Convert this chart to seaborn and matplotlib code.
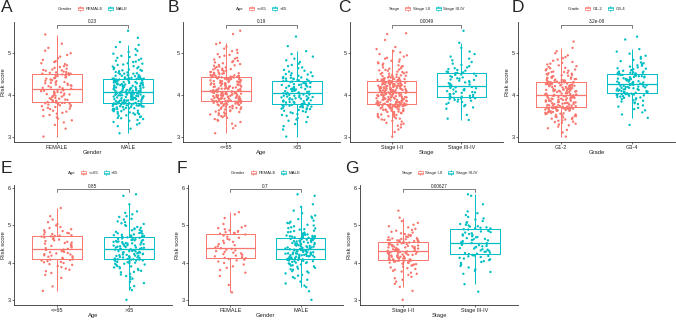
import numpy as np
import pandas as pd
import matplotlib
matplotlib.use("Agg")
import matplotlib.pyplot as plt
import seaborn as sns
from matplotlib.patches import Rectangle, Patch
from matplotlib.lines import Line2D
from matplotlib.legend_handler import HandlerBase

# ---- risk scores per group ----
a_female = [
    3.00, 3.19, 3.28, 3.34, 3.39, 3.43, 3.46, 3.49, 3.52, 3.55, 3.57, 3.60, 3.62, 3.64, 3.66, 3.67, 3.69, 3.71, 3.72, 3.73,
    3.75, 3.75, 3.77, 3.78, 3.79, 3.80, 3.80, 3.81, 3.81, 3.82,
    3.83, 3.84, 3.85, 3.86, 3.87, 3.88, 3.89, 3.90, 3.91, 3.92, 3.93, 3.95, 3.96, 3.97, 3.98, 3.99, 4.00, 4.01, 4.02, 4.03,
    4.04, 4.05, 4.06, 4.07, 4.08, 4.09, 4.10, 4.11, 4.12, 4.13,
    4.15, 4.16, 4.17, 4.18, 4.19, 4.21, 4.22, 4.23, 4.24, 4.25, 4.27, 4.28, 4.29, 4.30, 4.31, 4.33, 4.34, 4.35, 4.36, 4.37,
    4.39, 4.40, 4.41, 4.42, 4.43, 4.45, 4.46, 4.47, 4.48, 4.49,
    4.50, 4.51, 4.51, 4.52, 4.53, 4.54, 4.55, 4.56, 4.58, 4.59, 4.60, 4.61, 4.63, 4.65, 4.67, 4.69, 4.71, 4.74, 4.76, 4.79,
    4.81, 4.84, 4.88, 4.92, 4.96, 5.00, 5.06, 5.13, 5.23, 5.45,
]
a_male = [
    3.08, 3.19, 3.25, 3.29, 3.32, 3.35, 3.38, 3.40, 3.42, 3.44, 3.45, 3.47, 3.48, 3.50, 3.51, 3.53, 3.54, 3.55, 3.56, 3.57,
    3.58, 3.59, 3.61, 3.61, 3.62, 3.63, 3.64, 3.65, 3.66, 3.66, 3.67, 3.68, 3.68, 3.69, 3.70, 3.71, 3.71, 3.72, 3.72, 3.73,
    3.74, 3.74, 3.74, 3.75, 3.75, 3.76, 3.76, 3.77, 3.77, 3.77, 3.78, 3.78, 3.79, 3.79, 3.79, 3.79, 3.79, 3.80, 3.80, 3.80,
    3.80, 3.81, 3.81, 3.82, 3.82, 3.83, 3.83, 3.84, 3.84, 3.85, 3.85, 3.86, 3.86, 3.86, 3.87, 3.87, 3.88, 3.88, 3.89, 3.89,
    3.90, 3.90, 3.91, 3.91, 3.92, 3.92, 3.93, 3.93, 3.93, 3.94, 3.94, 3.95, 3.95, 3.96, 3.96, 3.97, 3.97, 3.98, 3.98, 3.99,
    3.99, 3.99, 4.00, 4.00, 4.01, 4.01, 4.02, 4.02, 4.03, 4.03, 4.04, 4.04, 4.04, 4.05, 4.05, 4.05, 4.06, 4.06, 4.06, 4.07,
    4.07, 4.08, 4.08, 4.09, 4.09, 4.10, 4.10, 4.11, 4.11, 4.12, 4.12, 4.13, 4.13, 4.14, 4.14, 4.15, 4.15, 4.16, 4.17, 4.17,
    4.18, 4.18, 4.19, 4.19, 4.20, 4.20, 4.21, 4.21, 4.22, 4.22, 4.23, 4.23, 4.24, 4.24, 4.25, 4.25, 4.26, 4.27, 4.27, 4.28,
    4.28, 4.29, 4.29, 4.30, 4.30, 4.31, 4.31, 4.32, 4.32, 4.33, 4.33, 4.34, 4.34, 4.35, 4.35, 4.36, 4.36, 4.37, 4.37, 4.38,
    4.38, 4.38, 4.39, 4.39, 4.39, 4.40, 4.40, 4.40, 4.41, 4.41, 4.42, 4.43, 4.43, 4.44, 4.45, 4.46, 4.46, 4.47, 4.48, 4.48,
    4.50, 4.51, 4.51, 4.52, 4.53, 4.54, 4.55, 4.57, 4.58, 4.59, 4.60, 4.61, 4.62, 4.64, 4.65, 4.67, 4.68, 4.69, 4.72, 4.73,
    4.75, 4.76, 4.79, 4.80, 4.82, 4.84, 4.87, 4.89, 4.91, 4.94, 4.96, 4.99, 5.03, 5.06, 5.10, 5.15, 5.20, 5.27, 5.37, 5.54,
]
b_le65 = [
    3.08, 3.20, 3.26, 3.31, 3.35, 3.38, 3.40, 3.42, 3.45, 3.47, 3.49, 3.50, 3.52, 3.53, 3.55, 3.56, 3.58, 3.59, 3.60, 3.61,
    3.63, 3.63, 3.65, 3.66, 3.67, 3.68, 3.69, 3.70, 3.70, 3.71, 3.72, 3.73, 3.74, 3.74, 3.75, 3.76, 3.77, 3.77, 3.77, 3.78,
    3.79, 3.79, 3.80, 3.81, 3.81, 3.81, 3.82, 3.82, 3.83, 3.83, 3.84, 3.84, 3.84, 3.85, 3.85, 3.85, 3.85, 3.86, 3.86, 3.86,
    3.86, 3.87, 3.87, 3.88, 3.88, 3.88, 3.89, 3.89, 3.90, 3.90, 3.91, 3.91, 3.91, 3.92, 3.92, 3.93, 3.93, 3.93, 3.94, 3.94,
    3.95, 3.95, 3.95, 3.96, 3.96, 3.97, 3.97, 3.97, 3.98, 3.98, 3.99, 3.99, 3.99, 4.00, 4.00, 4.01, 4.01, 4.01, 4.02, 4.02,
    4.03, 4.03, 4.03, 4.04, 4.04, 4.05, 4.05, 4.05, 4.06, 4.06, 4.07, 4.07, 4.07, 4.08, 4.08, 4.09, 4.09, 4.09,
    4.10, 4.11, 4.11, 4.12, 4.12, 4.13, 4.14, 4.14, 4.15, 4.15, 4.16, 4.16, 4.17, 4.17, 4.18, 4.19, 4.19, 4.20, 4.20, 4.21,
    4.21, 4.22, 4.23, 4.23, 4.24, 4.24, 4.25, 4.25, 4.26, 4.26, 4.27, 4.28, 4.28, 4.29, 4.29, 4.30, 4.30, 4.31, 4.32, 4.32,
    4.33, 4.33, 4.34, 4.34, 4.35, 4.35, 4.36, 4.37, 4.37, 4.38, 4.38, 4.39, 4.39, 4.40, 4.40, 4.41, 4.41, 4.42,
    4.42, 4.42, 4.43, 4.43, 4.43, 4.44, 4.44, 4.44, 4.45, 4.45, 4.46, 4.46, 4.47, 4.48, 4.49, 4.49, 4.50, 4.51, 4.52, 4.52,
    4.53, 4.54, 4.55, 4.55, 4.57, 4.58, 4.59, 4.60, 4.61, 4.62, 4.63, 4.64, 4.66, 4.67, 4.68, 4.70, 4.71, 4.72, 4.74, 4.76,
    4.78, 4.79, 4.81, 4.82, 4.85, 4.87, 4.89, 4.91, 4.94, 4.96, 4.98, 5.01, 5.05, 5.08, 5.11, 5.16, 5.22, 5.25, 5.46, 5.54,
]
b_gt65 = [
    3.00, 3.17, 3.25, 3.30, 3.35, 3.38, 3.41, 3.44, 3.47, 3.50, 3.52, 3.54, 3.56, 3.58, 3.59, 3.61, 3.62, 3.64, 3.65, 3.66,
    3.67, 3.68, 3.69, 3.70, 3.71, 3.72, 3.73, 3.73, 3.73, 3.74,
    3.74, 3.75, 3.76, 3.77, 3.77, 3.78, 3.79, 3.80, 3.80, 3.81, 3.82, 3.83, 3.83, 3.84, 3.85, 3.86, 3.86, 3.87, 3.88, 3.89,
    3.89, 3.90, 3.91, 3.92, 3.92, 3.93, 3.94, 3.95, 3.95, 3.96, 3.97, 3.98, 3.98, 3.99, 4.00, 4.01, 4.01, 4.02, 4.03, 4.04,
    4.04, 4.05, 4.06, 4.07, 4.08, 4.09, 4.09, 4.10, 4.11, 4.12, 4.13, 4.14, 4.14, 4.15, 4.16, 4.17, 4.18, 4.19, 4.19, 4.20,
    4.21, 4.22, 4.23, 4.24, 4.24, 4.25, 4.26, 4.27, 4.28, 4.29, 4.29, 4.30, 4.31, 4.32, 4.33, 4.34, 4.34, 4.35, 4.36, 4.37,
    4.38, 4.39, 4.39, 4.40, 4.41, 4.42, 4.43, 4.45, 4.46, 4.47, 4.49, 4.50, 4.52, 4.54, 4.56, 4.58, 4.60, 4.64, 4.66, 4.69,
    4.72, 4.75, 4.79, 4.83, 4.87, 4.92, 4.98, 5.05, 5.17, 5.40,
]
c_stage12 = [
    3.00, 3.11, 3.17, 3.22, 3.26, 3.29, 3.31, 3.33, 3.36, 3.38, 3.40, 3.41, 3.43, 3.44, 3.46, 3.47, 3.49, 3.49, 3.51, 3.52,
    3.53, 3.54, 3.55, 3.56, 3.57, 3.59, 3.59, 3.60, 3.61, 3.62, 3.62, 3.63, 3.64, 3.65, 3.65, 3.66, 3.67, 3.67, 3.68, 3.68,
    3.69, 3.70, 3.70, 3.71, 3.71, 3.71, 3.72, 3.73, 3.73, 3.73, 3.74, 3.74, 3.74, 3.75, 3.75, 3.75, 3.75, 3.76, 3.76, 3.76,
    3.76, 3.77, 3.77, 3.78, 3.78, 3.79, 3.79, 3.79, 3.80, 3.80, 3.81, 3.81, 3.82, 3.82, 3.82, 3.83, 3.83, 3.84, 3.84, 3.85,
    3.85, 3.86, 3.86, 3.86, 3.87, 3.87, 3.88, 3.88, 3.89, 3.89, 3.90, 3.90, 3.90, 3.91, 3.91, 3.92, 3.92, 3.93, 3.93, 3.94,
    3.94, 3.94, 3.95, 3.95, 3.96, 3.96, 3.97, 3.97, 3.98, 3.98, 3.98, 3.99, 3.99, 4.00, 4.00, 4.01, 4.01, 4.02, 4.02, 4.02,
    4.03, 4.03, 4.04, 4.04, 4.05, 4.05, 4.06, 4.06,
    4.07, 4.08, 4.08, 4.08, 4.09, 4.09, 4.10, 4.10, 4.10, 4.11, 4.11, 4.12, 4.12, 4.12, 4.13, 4.13, 4.14, 4.14, 4.14, 4.15,
    4.15, 4.16, 4.16, 4.16, 4.17, 4.17, 4.18, 4.18, 4.18, 4.19, 4.19, 4.20, 4.20, 4.20, 4.21, 4.21, 4.22, 4.22, 4.22, 4.23,
    4.23, 4.24, 4.24, 4.24, 4.25, 4.25, 4.26, 4.26, 4.26, 4.27, 4.27, 4.28, 4.28, 4.28, 4.29, 4.29, 4.30, 4.30, 4.30, 4.31,
    4.31, 4.32, 4.32, 4.32, 4.33, 4.33, 4.34, 4.34,
    4.35, 4.35, 4.36, 4.36, 4.36, 4.37, 4.37, 4.37, 4.38, 4.38, 4.39, 4.40, 4.40, 4.41, 4.42, 4.42, 4.43, 4.44, 4.45, 4.45,
    4.46, 4.47, 4.48, 4.49, 4.50, 4.51, 4.52, 4.53, 4.54, 4.55, 4.56, 4.58, 4.59, 4.60, 4.61, 4.63, 4.64, 4.66, 4.68, 4.69,
    4.71, 4.72, 4.75, 4.76, 4.78, 4.80, 4.82, 4.85, 4.87, 4.89, 4.92, 4.95, 4.98, 5.02, 5.05, 5.10, 5.15, 5.32, 5.46, 5.48,
]
c_stage34 = [
    3.40, 3.43, 3.52, 3.67, 3.70, 3.73, 3.76, 3.78, 3.81, 3.83, 3.84, 3.86, 3.88, 3.89, 3.90, 3.91, 3.92, 3.93, 3.93, 3.94,
    3.95, 3.96, 3.97, 3.98, 4.00, 4.01, 4.02, 4.03, 4.05, 4.06, 4.07, 4.08, 4.09, 4.11, 4.12, 4.13, 4.14, 4.16, 4.17, 4.18,
    4.19, 4.20,
    4.22, 4.24, 4.25, 4.27, 4.28, 4.30, 4.31, 4.33, 4.34, 4.36, 4.37, 4.39, 4.40, 4.42, 4.43, 4.45, 4.46, 4.48, 4.49, 4.51,
    4.52, 4.53,
    4.54, 4.55, 4.56, 4.58, 4.60, 4.62, 4.64, 4.66, 4.69, 4.72, 4.75, 4.79, 4.83, 4.87, 4.92, 4.98, 5.04, 5.13, 5.25, 5.54,
]
d_g12 = [
    3.00, 3.10, 3.16, 3.20, 3.24, 3.27, 3.29, 3.31, 3.33, 3.35, 3.36, 3.38, 3.39, 3.41, 3.42, 3.43, 3.45, 3.46, 3.47, 3.48,
    3.49, 3.50, 3.51, 3.52, 3.53, 3.54, 3.55, 3.55, 3.56, 3.57, 3.57, 3.58, 3.59, 3.60, 3.60, 3.61, 3.62, 3.62, 3.62, 3.63,
    3.64, 3.64, 3.64, 3.65, 3.65, 3.66, 3.67, 3.67, 3.67, 3.68, 3.68, 3.68, 3.69, 3.69, 3.69, 3.69, 3.69, 3.70, 3.70, 3.70,
    3.70, 3.71, 3.71, 3.72, 3.72, 3.73, 3.73, 3.74, 3.75, 3.75, 3.76, 3.76, 3.77, 3.77, 3.78, 3.78, 3.79, 3.80, 3.80, 3.81,
    3.81, 3.82, 3.82, 3.83, 3.83, 3.84, 3.85, 3.85, 3.86, 3.86, 3.87, 3.87, 3.88, 3.88, 3.89, 3.90, 3.90, 3.91, 3.91, 3.92,
    3.92, 3.93, 3.93, 3.94, 3.95, 3.95, 3.96, 3.96, 3.97, 3.97, 3.98, 3.98, 3.99, 3.99, 4.00,
    4.01, 4.02, 4.02, 4.03, 4.03, 4.04, 4.04, 4.05, 4.05, 4.06, 4.07, 4.07, 4.08, 4.08, 4.09, 4.09, 4.10, 4.10, 4.11, 4.11,
    4.12, 4.12, 4.13, 4.13, 4.14, 4.14, 4.15, 4.15, 4.16, 4.16, 4.17, 4.18, 4.18, 4.19, 4.19, 4.20, 4.20, 4.21, 4.21, 4.22,
    4.22, 4.23, 4.23, 4.24, 4.24, 4.25, 4.25, 4.26, 4.26, 4.27, 4.27, 4.28, 4.28, 4.29, 4.29,
    4.30, 4.30, 4.30, 4.31, 4.31, 4.31, 4.32, 4.32, 4.32, 4.33, 4.33, 4.34, 4.34, 4.35, 4.36, 4.36, 4.37, 4.38, 4.38, 4.39,
    4.40, 4.41, 4.41, 4.42, 4.43, 4.44, 4.45, 4.46, 4.47, 4.48, 4.49, 4.50, 4.51, 4.52, 4.53, 4.55, 4.55, 4.56, 4.58, 4.59,
    4.61, 4.62, 4.64, 4.65, 4.67, 4.69, 4.71, 4.73, 4.75, 4.77, 4.79, 4.82, 4.85, 4.88, 4.91, 4.95, 5.00, 5.05, 5.13, 5.28,
]
d_g34 = [
    3.28, 3.45, 3.53, 3.58, 3.63, 3.66, 3.69, 3.72, 3.75, 3.78, 3.80, 3.82, 3.84, 3.86, 3.87, 3.89, 3.90, 3.92, 3.93, 3.94,
    3.95, 3.96, 3.97, 3.98, 3.99, 4.00, 4.01, 4.01, 4.01, 4.02,
    4.02, 4.03, 4.04, 4.04, 4.05, 4.06, 4.07, 4.07, 4.08, 4.09, 4.09, 4.10, 4.11, 4.12, 4.12, 4.13, 4.14, 4.14, 4.15, 4.16,
    4.17, 4.17, 4.18, 4.19, 4.19, 4.20, 4.21, 4.22, 4.22, 4.23, 4.24, 4.24, 4.25, 4.26,
    4.26, 4.27, 4.28, 4.29, 4.29, 4.30, 4.31, 4.32, 4.32, 4.33, 4.34, 4.35, 4.35, 4.36, 4.37, 4.38, 4.38, 4.39, 4.40, 4.41,
    4.42, 4.42, 4.43, 4.44, 4.45, 4.45, 4.46, 4.47, 4.48, 4.48, 4.49, 4.50, 4.51, 4.51,
    4.52, 4.53, 4.53, 4.54, 4.55, 4.56, 4.56, 4.58, 4.59, 4.60, 4.62, 4.63, 4.64, 4.66, 4.68, 4.70, 4.71, 4.74, 4.76, 4.78,
    4.81, 4.84, 4.87, 4.91, 4.94, 4.99, 5.04, 5.10, 5.33, 5.40,
]
e_le65 = [
    3.24, 3.36, 3.59, 3.67, 3.72, 3.77, 3.81, 3.84, 3.88, 3.91, 3.94, 3.96, 3.99, 4.01, 4.02, 4.04, 4.06, 4.07, 4.08, 4.09,
    4.10, 4.11, 4.13, 4.14, 4.16, 4.17, 4.19, 4.20, 4.22, 4.23, 4.25, 4.26, 4.28, 4.29, 4.31, 4.32, 4.34, 4.35,
    4.37, 4.39, 4.41, 4.43, 4.45, 4.47, 4.49, 4.51, 4.53, 4.54, 4.56, 4.58, 4.60, 4.62, 4.64, 4.66, 4.68, 4.70,
    4.71, 4.72, 4.73, 4.74, 4.76, 4.77, 4.79, 4.80, 4.82, 4.85, 4.87, 4.90, 4.93, 4.96, 5.00, 5.04, 5.09, 5.16, 5.25, 5.47,
]
e_gt65 = [
    3.00, 3.26, 3.32, 3.37, 3.45, 3.48, 3.55, 3.57, 3.62, 3.64, 3.68, 3.70, 3.74, 3.75, 3.78, 3.80, 3.83, 3.85, 3.87, 3.88,
    3.90, 3.91, 3.94, 3.95, 3.97, 3.97, 3.99, 4.00, 4.01, 4.02, 4.03, 4.05, 4.06, 4.06, 4.07, 4.08, 4.08, 4.09, 4.09, 4.10,
    4.10, 4.11, 4.12, 4.13, 4.14, 4.14, 4.15, 4.16, 4.17, 4.18, 4.18, 4.19, 4.20, 4.21, 4.22, 4.23, 4.23, 4.24, 4.25, 4.26,
    4.27, 4.27, 4.28, 4.29, 4.30, 4.31, 4.31, 4.32, 4.33, 4.34, 4.35, 4.36, 4.36, 4.37,
    4.38, 4.39, 4.40, 4.41, 4.41, 4.42, 4.43, 4.44, 4.45, 4.46, 4.46, 4.47, 4.48, 4.49, 4.50, 4.51, 4.51, 4.52, 4.53, 4.54,
    4.55, 4.56, 4.56, 4.57, 4.58, 4.59, 4.60, 4.61, 4.61, 4.62, 4.63, 4.64, 4.65, 4.66,
    4.67, 4.68, 4.68, 4.69, 4.69, 4.70, 4.71, 4.72, 4.73, 4.74, 4.75, 4.76, 4.78, 4.79, 4.80, 4.81, 4.83, 4.85, 4.87, 4.88,
    4.90, 4.92, 4.94, 4.96, 4.99, 5.01, 5.04, 5.06, 5.09, 5.11, 5.16, 5.18, 5.23, 5.25, 5.30, 5.34, 5.38, 5.57, 5.80, 5.84,
]
f_female = [
    3.20, 3.40, 3.64, 3.73, 3.80, 3.86, 3.90, 3.95, 3.99, 4.03, 4.06, 4.08, 4.10, 4.12, 4.13,
    4.15, 4.17, 4.19, 4.21, 4.23, 4.25, 4.27, 4.29, 4.31, 4.33, 4.35, 4.37, 4.39,
    4.41, 4.44, 4.47, 4.50, 4.53, 4.56, 4.59, 4.62, 4.64, 4.67, 4.70, 4.73, 4.76,
    4.78, 4.79, 4.80, 4.82, 4.83, 4.85, 4.87, 4.90, 4.93, 4.95, 4.99, 5.04, 5.20, 5.30, 5.36,
]
f_male = [
    3.00, 3.23, 3.34, 3.38, 3.44, 3.49, 3.54, 3.58, 3.61, 3.65, 3.67, 3.71, 3.73, 3.76, 3.77, 3.81, 3.82, 3.84, 3.86, 3.89,
    3.90, 3.92, 3.93, 3.95, 3.96, 3.98, 3.99, 4.00, 4.01, 4.02, 4.04, 4.04, 4.05, 4.06, 4.07, 4.07, 4.08, 4.09, 4.09, 4.10,
    4.10, 4.11, 4.11, 4.12, 4.12, 4.13, 4.14, 4.14, 4.15, 4.15, 4.16, 4.17, 4.17, 4.18, 4.18, 4.19, 4.20, 4.20, 4.21, 4.21,
    4.22, 4.23, 4.23, 4.24, 4.24, 4.25, 4.25, 4.26, 4.27, 4.27, 4.28, 4.28, 4.29, 4.30, 4.30, 4.31, 4.31, 4.32, 4.33, 4.33,
    4.34, 4.34, 4.35, 4.35,
    4.36, 4.37, 4.38, 4.38, 4.39, 4.40, 4.41, 4.41, 4.42, 4.43, 4.44, 4.44, 4.45, 4.46, 4.47, 4.47, 4.48, 4.49, 4.50, 4.50,
    4.51, 4.52, 4.53, 4.53, 4.54, 4.55, 4.56, 4.56, 4.57, 4.58, 4.59, 4.59, 4.60, 4.61, 4.62, 4.62, 4.63, 4.64, 4.65, 4.65,
    4.66, 4.67, 4.68, 4.68,
    4.69, 4.70, 4.70, 4.71, 4.71, 4.72, 4.73, 4.74, 4.75, 4.76, 4.77, 4.78, 4.79, 4.81, 4.82, 4.83, 4.85, 4.86, 4.89, 4.90,
    4.92, 4.93, 4.95, 4.98, 5.00, 5.02, 5.06, 5.07, 5.10, 5.13, 5.17, 5.20, 5.24, 5.27, 5.33, 5.40, 5.50, 5.57, 5.80, 5.84,
]
g_stage12 = [
    3.00, 3.24, 3.35, 3.43, 3.49, 3.54, 3.58, 3.62, 3.67, 3.70, 3.73, 3.76, 3.78, 3.81, 3.83, 3.85, 3.87, 3.89, 3.92, 3.93,
    3.95, 3.96, 3.97, 3.99, 4.00, 4.01, 4.02, 4.03, 4.03, 4.04,
    4.04, 4.05, 4.06, 4.06, 4.07, 4.08, 4.09, 4.09, 4.10, 4.11, 4.11, 4.12, 4.13, 4.14, 4.14, 4.15, 4.16, 4.16, 4.17, 4.18,
    4.19, 4.19, 4.20, 4.21, 4.21, 4.22, 4.23, 4.24, 4.24, 4.25, 4.26, 4.26, 4.27, 4.28, 4.29, 4.29, 4.30, 4.30,
    4.31, 4.32, 4.33, 4.33, 4.34, 4.35, 4.36, 4.36, 4.37, 4.38, 4.38, 4.39, 4.40, 4.41, 4.41, 4.42, 4.43, 4.44, 4.44, 4.45,
    4.46, 4.47, 4.47, 4.48, 4.49, 4.50, 4.50, 4.51, 4.52, 4.53, 4.53, 4.54, 4.55, 4.56, 4.56, 4.57, 4.58, 4.58,
    4.59, 4.60, 4.60, 4.61, 4.61, 4.62, 4.63, 4.64, 4.65, 4.66, 4.68, 4.69, 4.70, 4.72, 4.74, 4.75, 4.77, 4.79, 4.81, 4.83,
    4.86, 4.88, 4.91, 4.95, 4.98, 5.02, 5.07, 5.12, 5.21, 5.40,
]
g_stage34 = [
    3.22, 3.42, 3.70, 3.75, 3.78, 3.82, 3.87, 3.91, 3.95, 3.99, 4.02, 4.04, 4.07, 4.09, 4.11, 4.13, 4.15, 4.17, 4.18, 4.19,
    4.20, 4.21, 4.23, 4.24, 4.26, 4.27, 4.29, 4.30, 4.32, 4.33, 4.35, 4.36, 4.38, 4.39, 4.41, 4.42, 4.44, 4.45, 4.47, 4.48,
    4.50, 4.51, 4.52, 4.53,
    4.55, 4.56, 4.58, 4.60, 4.61, 4.63, 4.64, 4.66, 4.68, 4.69, 4.71, 4.73, 4.74, 4.76, 4.77, 4.79, 4.81, 4.82, 4.84, 4.85,
    4.87, 4.89, 4.90, 4.92,
    4.93, 4.94, 4.95, 4.97, 4.98, 5.00, 5.02, 5.04, 5.07, 5.09, 5.12, 5.16, 5.19, 5.23, 5.28, 5.33, 5.38, 5.57, 5.80, 5.84,
]

# ---- categories, labels and p-values ----
gender_lv = ["FEMALE", "MALE"]
age_lv = ["<=65", ">65"]
stage_lv = ["Stage I-II", "Stage III-IV"]
grade_lv = ["G1-2", "G3-4"]
p_values = ["0.23", "0.19", "0.0049", "3.2e-08", "0.85", "0.7", "0.00627"]

RED, TEAL = "#F8766D", "#00BFC4"
W, H = 676, 320

sns.set_style("ticks")
plt.rcParams["font.family"] = ["Liberation Sans", "DejaVu Sans"]


class BoxKey(HandlerBase):
    # little boxplot glyph like the ggplot legend key
    def create_artists(self, legend, orig_handle, xdescent, ydescent, width, height, fontsize, trans):
        c = orig_handle.get_edgecolor()
        x0, y0 = -xdescent, -ydescent
        kw = dict(color=c, lw=0.5, transform=trans)
        rect = Rectangle((x0 + 0.12 * width, y0 + 0.22 * height), 0.76 * width, 0.56 * height,
                         fill=False, ec=c, lw=0.5, transform=trans)
        med = Line2D([x0 + 0.12 * width, x0 + 0.88 * width], [y0 + 0.5 * height] * 2, **kw)
        w1 = Line2D([x0 + 0.5 * width] * 2, [y0 - 0.05 * height, y0 + 0.22 * height], **kw)
        w2 = Line2D([x0 + 0.5 * width] * 2, [y0 + 0.78 * height, y0 + 1.05 * height], **kw)
        return [rect, med, w1, w2]


top = dict(tb=(22, 142), ylim=(2.87, 5.75), yticks=[3, 4, 5], br=5.68, drop=0.07, leg_y=8.5, let_y=0)
bot = dict(tb=(185, 305), ylim=(2.86, 6.09), yticks=[3, 4, 5, 6], br=5.97, drop=0.08, leg_y=172.5, let_y=161)

panels = [
    ("A", "Gender", gender_lv, [a_female, a_male], p_values[0], (14, 171), 0, top, True),
    ("B", "Age", age_lv, [b_le65, b_gt65], p_values[1], (183, 340), 167, top, False),
    ("C", "Stage", stage_lv, [c_stage12, c_stage34], p_values[2], (350, 503), 337, top, False),
    ("D", "Grade", grade_lv, [d_g12, d_g34], p_values[3], (518, 675), 511, top, True),
    ("E", "Age", age_lv, [e_le65, e_gt65], p_values[4], (14, 172), 0, bot, True),
    ("F", "Gender", gender_lv, [f_female, f_male], p_values[5], (188, 343), 176, bot, True),
    ("G", "Stage", stage_lv, [g_stage12, g_stage34], p_values[6], (360, 518), 344, bot, True),
]

fig = plt.figure(figsize=(W / 100, H / 100), dpi=100)
np.random.seed(7)

for tag, var, levels, vals, pv, (l, r), let_x, row, ylab in panels:
    t, b = row["tb"]
    ax = fig.add_axes([l / W, 1 - b / H, (r - l) / W, (b - t) / H])
    df = pd.DataFrame({
        "grp": np.repeat(levels, [len(v) for v in vals]),
        "score": np.concatenate(vals),
    })
    pal = dict(zip(levels, [RED, TEAL]))
    sns.boxplot(data=df, x="grp", y="score", hue="grp", order=levels, hue_order=levels,
                palette=pal, fill=False, width=0.7, showcaps=False, showfliers=False,
                linewidth=0.7, medianprops={"linewidth": 0.9}, legend=False, ax=ax)
    sns.stripplot(data=df, x="grp", y="score", hue="grp", order=levels, hue_order=levels,
                  palette=pal, jitter=0.22, size=1.7, linewidth=0, legend=False, ax=ax)

    ax.set_xlim(-0.6, 1.6)
    ax.set_ylim(*row["ylim"])
    ax.set_yticks(row["yticks"])
    ax.set_yticklabels([str(v) for v in row["yticks"]])
    sns.despine(ax=ax)
    for s in ("left", "bottom"):
        ax.spines[s].set_color("#333333")
        ax.spines[s].set_linewidth(0.6)
    ax.tick_params(length=1.5, width=0.5, colors="#333333", labelsize=4, pad=0.6,
                   labelcolor="#222222")
    ax.set_xlabel(var, fontsize=4.2, labelpad=0.4, color="#222222")
    ax.set_ylabel("Risk score" if ylab else "", fontsize=4.2, labelpad=1.5, color="#222222")

    # comparison bracket with p-value
    yb, dr = row["br"], row["drop"]
    ax.plot([0, 0, 1, 1], [yb - dr, yb, yb, yb - dr], color="#666666", lw=0.6, clip_on=False)
    ax.text(0.5, yb + 0.02, pv, ha="center", va="bottom", fontsize=3.4, color="#222222", clip_on=False)

    # legend above the panel
    cx = (l + r) / 2 - 4
    handles = [Line2D([], [], lw=0)] + [Patch(facecolor="none", edgecolor=c) for c in (RED, TEAL)]
    ax.legend(handles, [var] + levels, ncol=3, loc="center",
              bbox_to_anchor=(cx / W, 1 - row["leg_y"] / H), bbox_transform=fig.transFigure,
              frameon=False, fontsize=3.2, handler_map={Patch: BoxKey()},
              handlelength=1.5, handleheight=1.5, handletextpad=0.4, columnspacing=1.0,
              borderpad=0, borderaxespad=0)

    fig.text((let_x + 1) / W, 1 - row["let_y"] / H, tag, fontsize=12.5, ha="left", va="top")

fig.savefig("out.png", dpi=100)
